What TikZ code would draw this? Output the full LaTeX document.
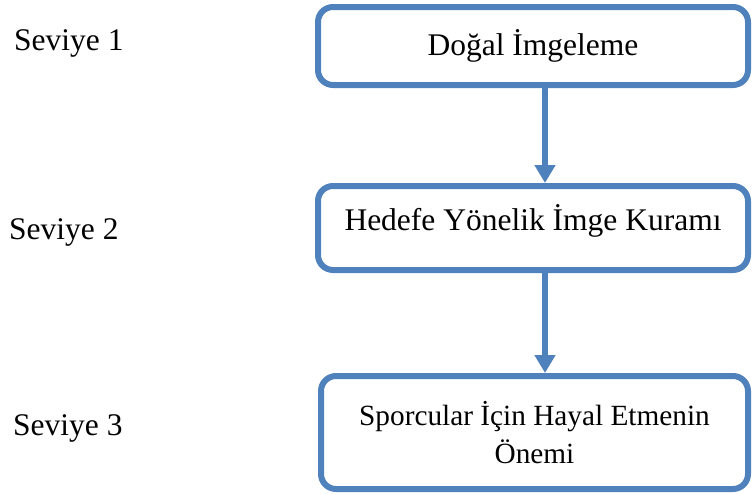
\documentclass[tikz,border=0pt]{standalone}
\usepackage{fontspec}
\setmainfont{Liberation Serif}
\usetikzlibrary{arrows.meta}
\definecolor{boxblue}{HTML}{4F81BD}
\tikzstyle{stage}=[draw=boxblue,line width=6pt,rounded corners=15pt,fill=white,align=center,font=\fontsize{31.5}{38}\selectfont]
\tikzstyle{levellabel}=[anchor=base west,inner sep=0pt,font=\fontsize{31.5}{38}\selectfont]
\tikzstyle{flow}=[draw=boxblue,line width=6pt,-{Triangle[width=20pt,length=18pt]}]

\begin{document}
\begin{tikzpicture}[x=1pt,y=-1pt]
\useasboundingbox (0,0) rectangle (752,493);
\node[stage, minimum width=430pt, minimum height=78pt] at (533, 46) (s1) {Doğal İmgeleme};
\node[stage, minimum width=430pt, minimum height=84pt, text depth=22pt] at (533, 228) (s2) {Hedefe Yönelik İmge Kuramı};
\node[stage, minimum width=427pt, minimum height=113pt, font=\fontsize{29.3}{38}\selectfont] at (534.5, 432.5) (s3) {Sporcular İçin Hayal Etmenin\\Önemi};
\node[levellabel] at (14, 50) (l1) {Seviye 1};
\node[levellabel] at (9, 239) (l2) {Seviye 2};
\node[levellabel] at (13, 435) (l3) {Seviye 3};
\draw[flow] ([xshift=12pt]s1.south) -- ([xshift=12pt]s2.north);
\draw[flow] ([xshift=12pt]s2.south) -- ([xshift=10.5pt]s3.north);
\end{tikzpicture}
\end{document}
